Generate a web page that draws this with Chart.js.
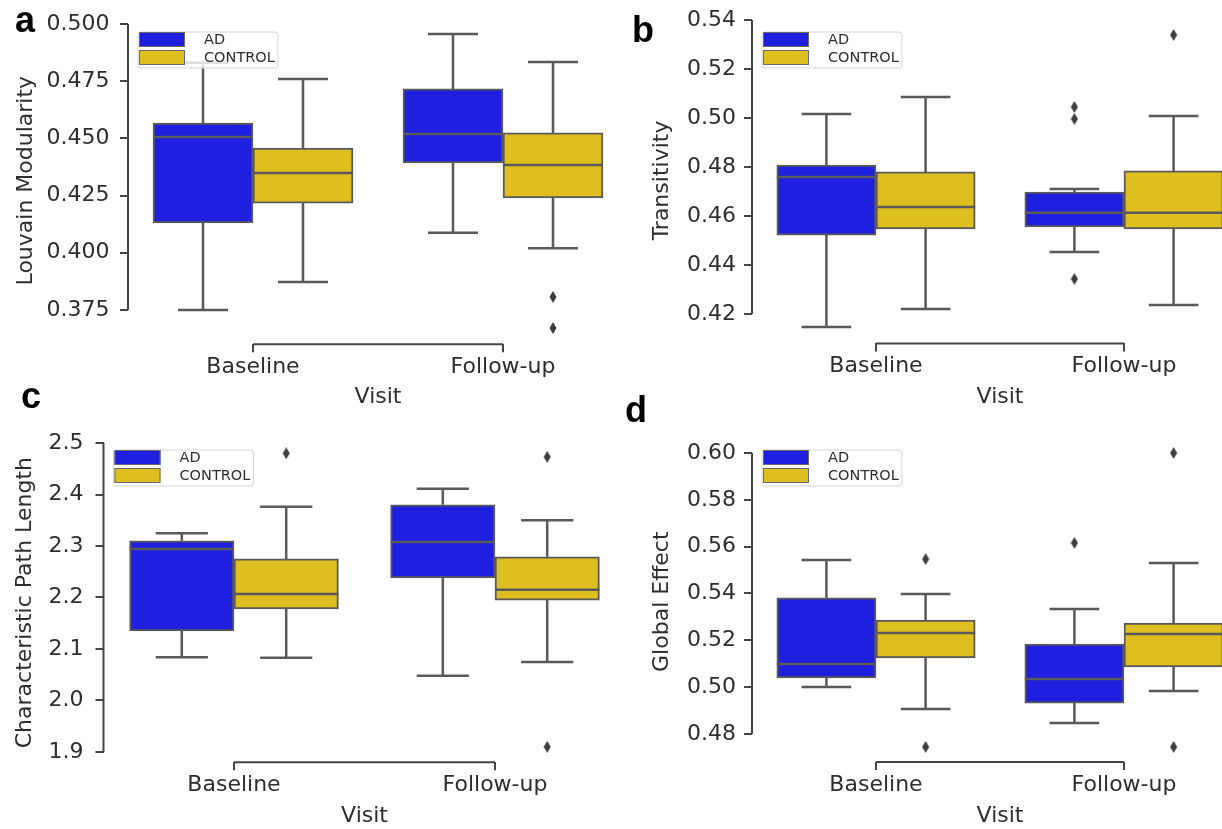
<!DOCTYPE html>
<html>
<head>
<meta charset="utf-8">
<script src="https://cdn.jsdelivr.net/npm/chart.js@4.4.1/dist/chart.umd.min.js"></script>
<style>
  html, body { margin: 0; padding: 0; background: #fff; overflow: hidden; }
  body { width: 1222px; height: 829px; position: relative; }
  canvas { position: absolute; }
  .tag { position: absolute; font: bold 36px "Liberation Sans", Arial, sans-serif; line-height: 36px; color: #000; }
</style>
</head>
<body>
<canvas id="pa" width="640" height="415" style="left:0;top:0"></canvas>
<canvas id="pb" width="640" height="415" style="left:624px;top:0"></canvas>
<canvas id="pc" width="640" height="415" style="left:0;top:415px"></canvas>
<canvas id="pd" width="640" height="415" style="left:624px;top:415px"></canvas>
<div class="tag" style="left:15px;top:2px">a</div>
<div class="tag" style="left:632px;top:12px">b</div>
<div class="tag" style="left:21px;top:378px">c</div>
<div class="tag" style="left:625px;top:392px">d</div>
<script>
const visits = ['Baseline', 'Follow-up']
const groups = ['AD', 'CONTROL']

// each box: [lower whisker, q1, median, q3, upper whisker], one per visit
const louvainAD = [[0.375, 0.413, 0.4506, 0.4567, 0.483], [0.4087, 0.4393, 0.4519, 0.4716, 0.4956]]
const louvainControl = [[0.3872, 0.4217, 0.4349, 0.4458, 0.476], [0.402, 0.424, 0.4384, 0.4524, 0.4834]]
const louvainOutAD = [[], []]
const louvainOutControl = [[], [0.3807, 0.3671]]
const louvainTicks = [0.375, 0.4, 0.425, 0.45, 0.475, 0.5]

const transAD = [[0.4147, 0.4522, 0.4759, 0.4808, 0.5016], [0.4453, 0.4555, 0.4613, 0.4698, 0.471]]
const transControl = [[0.422, 0.4547, 0.4637, 0.478, 0.5086], [0.4237, 0.4547, 0.4613, 0.4784, 0.5008]]
const transOutAD = [[], [0.5045, 0.4996, 0.4343]]
const transOutControl = [[], [0.5339]]
const transTicks = [0.42, 0.44, 0.46, 0.48, 0.5, 0.52, 0.54]

const pathAD = [[2.084, 2.135, 2.294, 2.31, 2.325], [2.048, 2.238, 2.308, 2.38, 2.411]]
const pathControl = [[2.083, 2.178, 2.207, 2.275, 2.376], [2.075, 2.195, 2.215, 2.279, 2.35]]
const pathOutAD = [[], []]
const pathOutControl = [[2.48], [2.473, 1.91]]
const pathTicks = [1.9, 2.0, 2.1, 2.2, 2.3, 2.4, 2.5]

const globalAD = [[0.5001, 0.5039, 0.5099, 0.5381, 0.5543], [0.4847, 0.4932, 0.5035, 0.5184, 0.5334]]
const globalControl = [[0.4907, 0.5125, 0.5231, 0.5287, 0.5398], [0.4984, 0.5086, 0.5227, 0.5274, 0.553]]
const globalOutAD = [[], [0.5616]]
const globalOutControl = [[0.5547, 0.4745], [0.6, 0.4745]]
const globalTicks = [0.48, 0.5, 0.52, 0.54, 0.56, 0.58, 0.6]

const BLUE = '#1f1fdf'
const GOLD = '#dfbf1f'
const LINE = '#5a5a5a'
const AXIS = '#454545'
const TEXT = '#2e2e2e'
const SHIFT = 0.2   // hue offset of each box from its visit

Chart.defaults.font.family = '"DejaVu Sans", sans-serif'
Chart.defaults.color = TEXT

// thin diamond used for the outliers
const outlierMark = document.createElement('canvas')
outlierMark.width = 8
outlierMark.height = 12
const om = outlierMark.getContext('2d')
om.fillStyle = '#3d3d3d'
om.beginPath()
om.moveTo(4, 0); om.lineTo(7.5, 6); om.lineTo(4, 12); om.lineTo(0.5, 6)
om.closePath()
om.fill()

const boxWhiskers = {
    id: 'boxWhiskers',
    afterDatasetsDraw(chart) {
        const ctx = chart.ctx
        const y = chart.scales.y
        ctx.save()
        ctx.strokeStyle = LINE
        ctx.lineWidth = 2.5
        chart.data.datasets.forEach((ds, di) => {
            if (!ds.stats) return
            chart.getDatasetMeta(di).data.forEach((bar, i) => {
                const [lo, q1, med, q3, hi] = ds.stats[i]
                const {x, width} = bar.getProps(['x', 'width'], true)
                const cap = width / 4
                ctx.beginPath()
                ctx.moveTo(x, y.getPixelForValue(q3)); ctx.lineTo(x, y.getPixelForValue(hi))
                ctx.moveTo(x - cap, y.getPixelForValue(hi)); ctx.lineTo(x + cap, y.getPixelForValue(hi))
                ctx.moveTo(x, y.getPixelForValue(q1)); ctx.lineTo(x, y.getPixelForValue(lo))
                ctx.moveTo(x - cap, y.getPixelForValue(lo)); ctx.lineTo(x + cap, y.getPixelForValue(lo))
                ctx.moveTo(x - width / 2, y.getPixelForValue(med)); ctx.lineTo(x + width / 2, y.getPixelForValue(med))
                ctx.stroke()
            })
        })
        ctx.restore()
    }
}

// seaborn-style trimmed spines
const spines = {
    id: 'spines',
    beforeDatasetsDraw(chart) {
        const {ctx, chartArea} = chart
        const {x, y} = chart.scales
        const t = y.ticks
        ctx.save()
        ctx.strokeStyle = AXIS
        ctx.lineWidth = 2
        ctx.beginPath()
        ctx.moveTo(chartArea.left, y.getPixelForValue(t[0].value))
        ctx.lineTo(chartArea.left, y.getPixelForValue(t[t.length - 1].value))
        ctx.moveTo(x.getPixelForValue(0), chartArea.bottom)
        ctx.lineTo(x.getPixelForValue(visits.length - 1), chartArea.bottom)
        ctx.stroke()
        ctx.restore()
    }
}

const boxLegend = {
    id: 'boxLegend',
    afterDraw(chart, args, opts) {
        const {ctx, chartArea} = chart
        const x0 = chartArea.left + 11
        const y0 = opts.top
        ctx.save()
        ctx.beginPath()
        ctx.roundRect(x0 - 1, y0, 140, 36, 3)
        ctx.fillStyle = 'rgba(255,255,255,0.8)'
        ctx.fill()
        ctx.strokeStyle = '#d6d6d6'
        ctx.lineWidth = 1
        ctx.stroke()
        ctx.font = '14.5px "DejaVu Sans"'
        ctx.textBaseline = 'middle'
        chart.data.datasets.slice(0, 2).forEach((ds, i) => {
            const py = y0 + i * 18
            ctx.fillStyle = ds.backgroundColor
            ctx.fillRect(x0, py, 46, 15)
            ctx.strokeStyle = '#6a6a6a'
            ctx.strokeRect(x0 + 0.5, py + 0.5, 45, 14)
            ctx.fillStyle = TEXT
            ctx.fillText(ds.label, x0 + 65, py + 8)
        })
        ctx.restore()
    }
}

const boxes = (stats, shift) => stats.map((b, i) => ({x: i + shift, y: [b[1], b[3]]}))
const outlierPoints = (sets, shift) => sets.flatMap((vals, i) => vals.map(v => ({x: i + shift, y: v})))

const makePanel = (id, p) => {
    new Chart(document.getElementById(id), {
        type: 'bar',
        data: {
            datasets: [
                {label: groups[0], stats: p.ad, data: boxes(p.ad, -SHIFT), backgroundColor: BLUE},
                {label: groups[1], stats: p.control, data: boxes(p.control, SHIFT), backgroundColor: GOLD},
                {
                    type: 'scatter',
                    data: [...outlierPoints(p.outAD, -SHIFT), ...outlierPoints(p.outControl, SHIFT)],
                    pointStyle: outlierMark,
                    pointRadius: 5
                }
            ]
        },
        options: {
            responsive: false,
            animation: false,
            devicePixelRatio: 1,
            layout: {autoPadding: false, padding: {left: 0, top: p.top, right: 640 - p.right, bottom: 0}},
            datasets: {
                bar: {
                    grouped: false,
                    barThickness: (p.right - p.left) * SHIFT,
                    borderColor: LINE,
                    borderWidth: 2,
                    borderSkipped: false
                }
            },
            plugins: {
                legend: {display: false},
                tooltip: {enabled: false},
                boxLegend: {top: p.legendTop}
            },
            scales: {
                x: {
                    type: 'linear',
                    min: -0.5,
                    max: 1.5,
                    offset: false,
                    grid: {drawOnChartArea: false, drawTicks: true, tickLength: 8, offset: false, color: AXIS, lineWidth: 2},
                    border: {display: false},
                    afterBuildTicks: s => { s.ticks = visits.map((v, i) => ({value: i})) },
                    ticks: {font: {size: 22}, padding: 2, color: TEXT, callback: (v, i) => visits[i]},
                    title: {display: true, text: 'Visit', font: {size: 22}, color: TEXT, padding: {top: 0, bottom: p.titleBottom}},
                    afterFit: s => { s.height = 415 - p.bottom; s.paddingLeft = 0; s.paddingRight = 0 }
                },
                y: {
                    min: p.yMin,
                    max: p.yMax,
                    grid: {drawOnChartArea: false, drawTicks: true, tickLength: 8, color: AXIS, lineWidth: 2},
                    border: {display: false},
                    ticks: {font: {size: 22}, padding: p.tickPad, color: TEXT, callback: v => v.toFixed(p.digits)},
                    afterBuildTicks: s => { s.ticks = p.ticks.map(v => ({value: v})) },
                    title: {display: true, text: p.label, font: {size: 22}, color: TEXT, padding: {top: p.titleLeft, bottom: 0}},
                    afterFit: s => { s.width = p.left; s.paddingTop = 0; s.paddingBottom = 0 }
                }
            }
        },
        plugins: [spines, boxWhiskers, boxLegend]
    })
}

makePanel('pa', {
    ad: louvainAD, control: louvainControl, outAD: louvainOutAD, outControl: louvainOutControl,
    ticks: louvainTicks, digits: 3, label: 'Louvain Modularity',
    yMin: 0.36, yMax: 0.503, left: 128, right: 628, top: 17.1, bottom: 344.3,
    tickPad: 10.5, titleLeft: 12.8, titleBottom: 4.3, legendTop: 32
})
makePanel('pb', {
    ad: transAD, control: transControl, outAD: transOutAD, outControl: transOutControl,
    ticks: transTicks, digits: 2, label: 'Transitivity',
    yMin: 0.408, yMax: 0.541, left: 128, right: 624, top: 17.55, bottom: 343.4,
    tickPad: 8, titleLeft: 24.8, titleBottom: 4.8, legendTop: 32
})
makePanel('pc', {
    ad: pathAD, control: pathControl, outAD: pathOutAD, outControl: pathOutControl,
    ticks: pathTicks, digits: 1, label: 'Characteristic Path Length',
    yMin: 1.88, yMax: 2.5, left: 103.5, right: 625.5, top: 28, bottom: 347.3,
    tickPad: 12, titleLeft: 11.8, titleBottom: 0.8, legendTop: 35
})
makePanel('pd', {
    ad: globalAD, control: globalControl, outAD: globalOutAD, outControl: globalOutControl,
    ticks: globalTicks, digits: 2, label: 'Global Effect',
    yMin: 0.468, yMax: 0.605, left: 128, right: 624, top: 26.29, bottom: 347.1,
    tickPad: 8, titleLeft: 24.8, titleBottom: 0.8, legendTop: 35
})
</script>
</body>
</html>
